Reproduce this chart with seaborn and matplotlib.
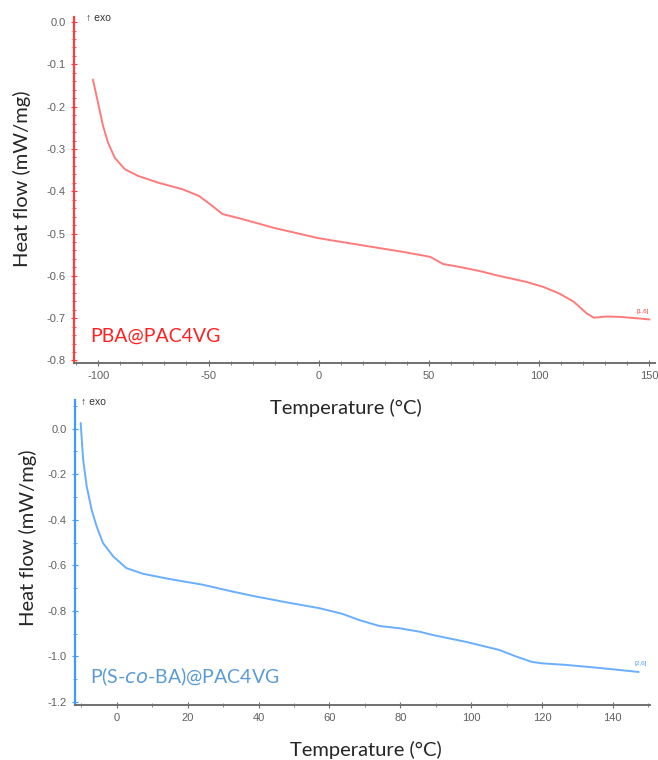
import numpy as np
import pandas as pd
import seaborn as sns
import matplotlib.pyplot as plt
from matplotlib.ticker import MultipleLocator

# PBA@PAC4VG (top panel)
t_pba = [-102.4, -100.1, -97.8, -95.5, -92.5, -87.9, -81.8, -72.6, -61.9, -54.3, -48.2, -43.6,
         -35.9, -20.0, 0.0, 20.0, 39.0, 50.5, 56.4, 62.0, 72.5, 81.7, 94.0, 101.8, 109.2,
         115.6, 121.6, 124.8, 130.7, 136.7, 145.9, 150.0]
hf_pba = [-0.136, -0.191, -0.246, -0.286, -0.321, -0.348, -0.364, -0.380, -0.395, -0.411, -0.435, -0.454,
          -0.464, -0.487, -0.511, -0.528, -0.544, -0.555, -0.572, -0.577, -0.588, -0.600, -0.614, -0.626,
          -0.642, -0.661, -0.689, -0.699, -0.696, -0.697, -0.701, -0.703]

# P(S-co-BA)@PAC4VG (bottom panel)
t_sba = [-10.2, -9.5, -8.5, -7.1, -5.7, -3.9, -1.0, 2.7, 7.4, 14.9, 24.3, 31.8, 38.4, 47.8,
         57.2, 63.7, 68.4, 74.1, 79.7, 85.4, 89.0, 98.6, 107.9, 112.7, 117.2, 120.0, 126.8,
         136.0, 147.3]
hf_sba = [0.025, -0.136, -0.253, -0.356, -0.429, -0.502, -0.561, -0.612, -0.637, -0.660, -0.685, -0.712,
          -0.734, -0.762, -0.788, -0.813, -0.840, -0.866, -0.876, -0.891, -0.905, -0.936, -0.971,
          -1.000, -1.024, -1.030, -1.037, -1.050, -1.068]

df_pba = pd.DataFrame({"T": t_pba, "HF": hf_pba})
df_sba = pd.DataFrame({"T": t_sba, "HF": hf_sba})

sns.set_style("white")
plt.rcParams['font.family'] = ['Liberation Sans', 'DejaVu Sans']
plt.rcParams['axes.unicode_minus'] = False

W, H = 658, 760
fig = plt.figure(figsize=(W / 100, H / 100), dpi=100)

def px_axes(l, t, r, b):
    return fig.add_axes([l / W, 1 - b / H, (r - l) / W, (b - t) / H])

ax1 = px_axes(74, 17, 655, 363)
ax2 = px_axes(75, 400, 650, 705)

red_line = "#ff7b7b"
red_axis = "#ff3b3b"
blue_line = "#6aaeff"
blue_axis = "#3d9bff"

sns.lineplot(data=df_pba, x="T", y="HF", ax=ax1, color=red_line, lw=1.4)
sns.lineplot(data=df_sba, x="T", y="HF", ax=ax2, color=blue_line, lw=1.4)

def style(ax, ycol, xmaj, xmin, ymaj, ymin, xlim, ylim):
    ax.set_xlim(*xlim)
    ax.set_ylim(*ylim)
    ax.xaxis.set_major_locator(MultipleLocator(xmaj))
    ax.xaxis.set_minor_locator(MultipleLocator(xmin))
    ax.yaxis.set_major_locator(MultipleLocator(ymaj))
    ax.yaxis.set_minor_locator(MultipleLocator(ymin))
    for s in ["top", "right"]:
        ax.spines[s].set_visible(False)
    ax.spines["left"].set_color(ycol)
    ax.spines["left"].set_linewidth(1.6)
    ax.spines["bottom"].set_color("#707070")
    ax.spines["bottom"].set_linewidth(1.4)
    ax.tick_params(axis="y", which="major", direction="inout", length=5, color=ycol,
                   labelsize=8, labelcolor="#606060", left=True)
    ax.tick_params(axis="y", which="minor", direction="inout", length=3, color=ycol, left=True)
    ax.tick_params(axis="x", which="major", direction="inout", length=4, color="#707070",
                   labelsize=8, labelcolor="#606060", bottom=True)
    ax.tick_params(axis="x", which="minor", direction="inout", length=3, color="#707070", bottom=True)
    ax.set_xlabel("")
    ax.set_ylabel("")
    ax.yaxis.set_major_formatter(plt.FuncFormatter(lambda v, p: f"{v:.1f}"))

style(ax1, red_axis, 50, 10, 0.1, 0.02, (-111, 152.5), (-0.806, 0.012))
style(ax2, blue_axis, 20, 10, 0.2, 0.1, (-11.8, 150.5), (-1.213, 0.126))

lab_font = ['Lato', 'DejaVu Sans']
fig.text(346 / W, 1 - 408 / H, "Temperature (°C)", ha="center", va="center", fontsize=14.5, family=lab_font)
fig.text(366 / W, 1 - 750 / H, "Temperature (°C)", ha="center", va="center", fontsize=14.5, family=lab_font)
fig.text(22 / W, 1 - 179 / H, "Heat flow (mW/mg)", ha="center", va="center", rotation=90, fontsize=14.5, family=lab_font)
fig.text(28 / W, 1 - 538 / H, "Heat flow (mW/mg)", ha="center", va="center", rotation=90, fontsize=14.5, family=lab_font)

fig.text(90 / W, 1 - 336 / H, "PBA@PAC4VG", ha="left", va="center", fontsize=14, color="#ff2020", family=lab_font)
fig.text(90 / W, 1 - 677 / H, r"P(S-$\it{co}$-BA)@PAC4VG", ha="left", va="center", fontsize=14,
         color="#5b9bd5", family=lab_font)

fig.text(86 / W, 1 - 18 / H, "↑ exo", ha="left", va="center", fontsize=7.5, color="#333333")
fig.text(81 / W, 1 - 402 / H, "↑ exo", ha="left", va="center", fontsize=7.5, color="#333333")

fig.text(643 / W, 1 - 312 / H, "[1,6]", ha="center", va="center", fontsize=4.5, color=red_axis)
fig.text(641 / W, 1 - 664 / H, "[2,6]", ha="center", va="center", fontsize=4.5, color=blue_axis)

fig.savefig("out.png", dpi=100)
